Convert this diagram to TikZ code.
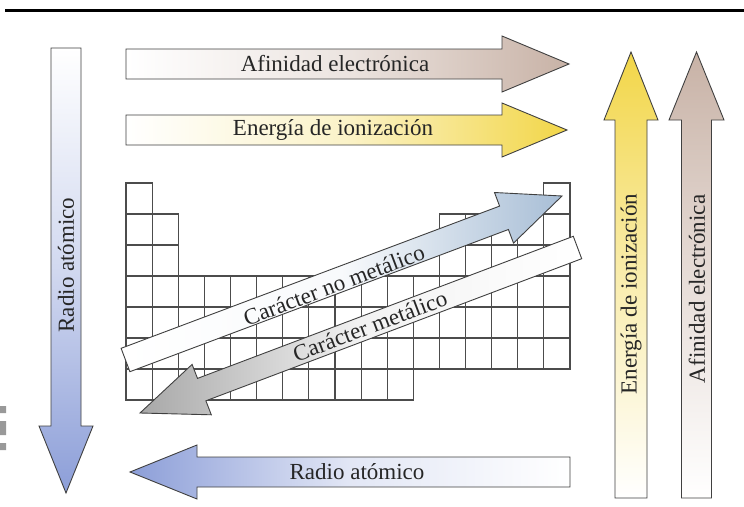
\documentclass[tikz,border=0pt]{standalone}
\usepackage{fontspec}
\setmainfont{Liberation Serif}
\definecolor{radb}{RGB}{140,158,216}
\definecolor{tanc}{RGB}{200,178,166}
\definecolor{yel}{RGB}{242,214,72}
\definecolor{stb}{RGB}{168,190,214}
\definecolor{grc}{RGB}{168,168,168}
\begin{document}
\begin{tikzpicture}[x=1pt,y=-1pt,
  outl/.style={draw=black!75, line width=0.9pt, line join=miter},
  gridline/.style={draw=black!70, line width=1.1pt},
  lbl/.style={text=black!85, font=\fontsize{23}{25}\selectfont, inner sep=0pt}]
\fill[white] (0,0) rectangle (744,506);
\useasboundingbox (0,0) rectangle (744,506);

% top rule and scan marks
\draw[line width=3.2pt] (5,10.5) -- (744,10.5);
\fill[black!40] (0,406) rectangle (6,413) (0,421) rectangle (6,435) (0,443) rectangle (6,450);

% periodic table grid
\foreach \c/\a/\b in {0/0/6,1/1/6,2/3/6,3/3/6,4/3/6,5/3/6,6/3/6,7/3/6,8/3/6,9/3/6,10/3/6,11/3/5,12/1/5,13/1/5,14/1/5,15/1/5,16/0/5}
  \foreach \r in {\a,...,\b}
    \draw[gridline] ({126+26.12*\c},{183+31*\r}) rectangle ++(26.12,31);

% horizontal arrows at top
\shade[outl, left color=white, right color=tanc, middle color=white!65!tanc]
  (126,49) -- (502,49) -- (502,36) -- (569,64) -- (502,92) -- (502,79) -- (126,79) -- cycle;
\shade[outl, left color=white, right color=yel, middle color=white!70!yel]
  (126,115) -- (502,115) -- (502,103) -- (567,130) -- (502,157) -- (502,145) -- (126,145) -- cycle;

% left vertical arrow
\shade[outl, top color=white, bottom color=radb, middle color=white!60!radb]
  (51,48) -- (81,48) -- (81,426) -- (93,426) -- (66,493) -- (39,426) -- (51,426) -- cycle;

% bottom arrow
\shade[outl, left color=radb, right color=white, middle color=white!75!radb]
  (570,457) -- (197,457) -- (197,445) -- (130,472) -- (197,499) -- (197,487) -- (570,487) -- cycle;

% right vertical arrows
\shade[outl, bottom color=white, top color=yel, middle color=white!55!yel]
  (615,498) -- (615,120) -- (604,120) -- (631,52) -- (658,120) -- (647,120) -- (647,498) -- cycle;
\shade[outl, bottom color=white, top color=tanc, middle color=white!55!tanc]
  (681.5,498) -- (681.5,120) -- (669,120) -- (696.5,52) -- (724,120) -- (711.5,120) -- (711.5,498) -- cycle;

% diagonal arrows
\shade[outl, left color=white, right color=stb, middle color=white!92!stb]
  (121.1,348.3) -- (499.6,206.1) -- (494.5,192.5) -- (562,196) -- (513.5,243.1) -- (508.4,229.5) -- (129.9,371.7) -- cycle;
\shade[outl, left color=grc, right color=white, middle color=white!85!grc]
  (573.3,236.3) -- (197.5,378.4) -- (192.1,364.4) -- (140,413) -- (211.3,414.8) -- (205.9,400.8) -- (581.7,258.7) -- cycle;

% labels
\node[lbl] (afh) at (335,64) {Afinidad electrónica};
\node[lbl] (eih) at (333,130) {Energía de ionización};
\node[lbl] (rah) at (357,472) {Radio atómico};
\node[lbl, rotate=90] (rav) at (66,265) {Radio atómico};
\node[lbl, rotate=90] (eiv) at (631,294) {Energía de ionización};
\node[lbl, rotate=90] (afv) at (697,289) {Afinidad electrónica};
\node[lbl, rotate=20.7] (cnm) at (334,285) {Carácter no metálico};
\node[lbl, rotate=20.7] (cme) at (370,326) {Carácter metálico};
\end{tikzpicture}
\end{document}
